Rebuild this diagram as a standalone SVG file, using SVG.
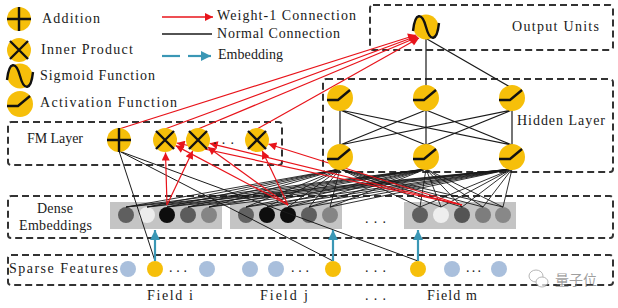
<svg xmlns="http://www.w3.org/2000/svg" xmlns:xlink="http://www.w3.org/1999/xlink" width="618" height="308" viewBox="0 0 618 308">
<style>
  .txt{font-family:"Liberation Serif","DejaVu Serif",serif;font-size:14px;fill:#1a1a1a}
  .box{fill:none;stroke:#333;stroke-width:2;stroke-dasharray:7 4}
  .y{fill:#f6bf0a}
  .gl{fill:none;stroke:#111;stroke-width:2.4}
  .blk{fill:none;stroke:#1a1a1a;stroke-width:0.9}
  .red{fill:none;stroke:#e8141b;stroke-width:1.2}
  .teal{fill:none;stroke:#3a97b5;stroke-width:2.2}
  .sp{fill:#a9bfdc}
  .emb{fill:#c4c4c4}
</style>
<defs>
  <marker id="ar" viewBox="0 0 10 10" refX="10" refY="5" markerWidth="10" markerHeight="8" markerUnits="userSpaceOnUse" orient="auto"><path d="M0,0 L10,5 L0,10 z" fill="#e8141b"/></marker>
  <marker id="at" viewBox="0 0 10 10" refX="10" refY="5" markerWidth="10" markerHeight="10" markerUnits="userSpaceOnUse" orient="auto"><path d="M0,0 L10,5 L0,10 z" fill="#3a97b5"/></marker>
  <g id="s-add"><circle r="12" class="y"/><path class="gl" d="M-12,0 H12 M0,-12 V12"/></g>
  <g id="s-ip"><circle r="12" class="y"/><path class="gl" d="M-9,-9 L9,9 M9,-9 L-9,9"/></g>
  <g id="s-sig"><circle r="12.5" class="y"/><path class="gl" d="M-13,4 C-11,-15 -4,-15 0,0 C4,15 11,15 13,-4"/></g>
  <g id="s-act"><circle r="13" class="y"/><path class="gl" d="M-13,2 H-2 L10,-8"/></g>
</defs>
<rect width="618" height="308" fill="#fff"/>

<!-- legend -->
<g id="legend">
  <use xlink:href="#s-add" x="19" y="19"/>
  <text class="txt" x="42" y="23" textLength="58" lengthAdjust="spacing">Addition</text>
  <use xlink:href="#s-ip" x="19" y="50"/>
  <text class="txt" x="41" y="54" textLength="92" lengthAdjust="spacing">Inner Product</text>
  <use xlink:href="#s-sig" x="20" y="76"/>
  <text class="txt" x="40" y="80" textLength="115" lengthAdjust="spacing">Sigmoid Function</text>
  <use xlink:href="#s-act" x="20" y="104"/>
  <text class="txt" x="40" y="107" textLength="137" lengthAdjust="spacing">Activation Function</text>
  <line class="red" x1="162" y1="17" x2="213" y2="17" marker-end="url(#ar)" style="stroke-width:1.5"/>
  <text class="txt" x="217" y="20" textLength="139" lengthAdjust="spacing">Weight-1 Connection</text>
  <line x1="162" y1="34" x2="212" y2="34" stroke="#1a1a1a" stroke-width="1.5"/>
  <text class="txt" x="217" y="38" textLength="123" lengthAdjust="spacing">Normal Connection</text>
  <path class="teal" d="M162,56 H180"/>
  <line class="teal" x1="188" y1="56" x2="211" y2="56" marker-end="url(#at)"/>
  <text class="txt" x="218" y="59" textLength="65" lengthAdjust="spacing">Embedding</text>
</g>

<!-- layer boxes -->
<g id="boxes">
  <rect class="box" x="370" y="5" width="243" height="45" rx="3"/>
  <text class="txt" x="512" y="31" textLength="87" lengthAdjust="spacing">Output Units</text>
  <rect class="box" x="323" y="79" width="290" height="93" rx="3"/>
  <text class="txt" x="517" y="125" textLength="88" lengthAdjust="spacing">Hidden Layer</text>
  <rect class="box" x="8" y="122" width="274" height="43" rx="3"/>
  <text class="txt" x="27" y="143" textLength="56" lengthAdjust="spacing">FM Layer</text>
  <rect class="box" x="8" y="196" width="605" height="42" rx="3"/>
  <text class="txt" x="37" y="213" textLength="36" lengthAdjust="spacing">Dense</text>
  <text class="txt" x="19" y="230" textLength="73" lengthAdjust="spacing">Embeddings</text>
  <rect class="box" x="8" y="255" width="605" height="30" rx="3"/>
  <text class="txt" x="9" y="273" textLength="109" lengthAdjust="spacing">Sparse Features</text>
</g>

<!-- dense embeddings -->
<g id="dense-field-i">
  <rect class="emb" x="110" y="202" width="112" height="27"/>
  <circle cx="126" cy="215" r="8" fill="#5f5f5f"/>
  <circle cx="147" cy="215" r="8" fill="#ececec"/>
  <circle cx="167" cy="215" r="8" fill="#0d0d0d"/>
  <circle cx="188" cy="215" r="8" fill="#5c5c5c"/>
  <circle cx="209" cy="215" r="8" fill="#858585"/>
</g>
<g id="dense-field-j">
  <rect class="emb" x="230" y="202" width="112" height="27"/>
  <circle cx="246" cy="215" r="8" fill="#626262"/>
  <circle cx="267" cy="215" r="8" fill="#0e0e0e"/>
  <circle cx="288" cy="215" r="8" fill="#0e0e0e"/>
  <circle cx="309" cy="215" r="8" fill="#5f5f5f"/>
  <circle cx="330" cy="215" r="8" fill="#858585"/>
</g>
<text class="txt" x="365" y="223" textLength="21" lengthAdjust="spacing">...</text>
<g id="dense-field-m">
  <rect class="emb" x="404" y="202" width="112" height="27"/>
  <circle cx="420" cy="215" r="8" fill="#5f5f5f"/>
  <circle cx="441" cy="215" r="8" fill="#eeeeee"/>
  <circle cx="462" cy="215" r="8" fill="#545454"/>
  <circle cx="483" cy="215" r="8" fill="#7d7d7d"/>
  <circle cx="503" cy="215" r="8" fill="#888888"/>
</g>

<!-- connectors -->
<g id="connectors">
  <g id="dense-to-hidden" class="blk">
    <path d="M126,207L340,169M126,207L426,169M126,207L512,169M147,207L340,169M147,207L426,169M147,207L512,169M167,207L340,169M167,207L426,169M167,207L512,169M188,207L340,169M188,207L426,169M188,207L512,169M209,207L340,169M209,207L426,169M209,207L512,169"/>
    <path d="M246,207L340,169M246,207L426,169M246,207L512,169M267,207L340,169M267,207L426,169M267,207L512,169M288,207L340,169M288,207L426,169M288,207L512,169M309,207L340,169M309,207L426,169M309,207L512,169M330,207L340,169M330,207L426,169M330,207L512,169"/>
    <path d="M420,207L340,169M420,207L426,169M420,207L512,169M441,207L340,169M441,207L426,169M441,207L512,169M462,207L340,169M462,207L426,169M462,207L512,169M483,207L340,169M483,207L426,169M483,207L512,169M503,207L340,169M503,207L426,169M503,207L512,169"/>
  </g>
  <g id="hidden-links" class="blk" style="stroke-width:1.2">
    <path d="M340,110L340,145M340,110L426,145M340,110L512,145M426,110L340,145M426,110L426,145M426,110L512,145M512,110L340,145M512,110L426,145M512,110L512,145"/>
    <path d="M426,39L426,86M427,39L510,87"/>
  </g>
  <g id="sparse-to-addition" class="blk" style="stroke-width:1">
    <path d="M119,151L155,261M119,151L333,261M119,151L418,261"/>
  </g>
  <g id="weight1-embed" class="red">
    <line x1="167" y1="205" x2="165.5" y2="152.5" marker-end="url(#ar)"/>
    <line x1="167" y1="205" x2="192.8" y2="150.8" marker-end="url(#ar)"/>
    <line x1="288" y1="205" x2="175.6" y2="145.6" marker-end="url(#ar)"/>
    <line x1="288" y1="205" x2="207.7" y2="147" marker-end="url(#ar)"/>
    <line x1="288" y1="205" x2="262.2" y2="150.8" marker-end="url(#ar)"/>
    <line x1="462" y1="205" x2="176.7" y2="143" marker-end="url(#ar)"/>
    <line x1="462" y1="205" x2="209.7" y2="143.3" marker-end="url(#ar)"/>
    <line x1="462" y1="205" x2="268.4" y2="144" marker-end="url(#ar)"/>
  </g>
  <g id="weight1-output" class="red">
    <line x1="119" y1="129" x2="416" y2="35" marker-end="url(#ar)"/>
    <line x1="165" y1="129" x2="417" y2="36" marker-end="url(#ar)"/>
    <line x1="198" y1="129" x2="418" y2="37" marker-end="url(#ar)"/>
    <line x1="257" y1="129" x2="419" y2="38" marker-end="url(#ar)"/>
  </g>
  <g id="embedding-arrows" class="teal">
    <line x1="155" y1="261" x2="155" y2="230" marker-end="url(#at)"/>
    <line x1="333" y1="261" x2="333" y2="230" marker-end="url(#at)"/>
    <line x1="418" y1="261" x2="418" y2="230" marker-end="url(#at)"/>
  </g>
</g>

<!-- nodes -->
<g id="output-unit"><use xlink:href="#s-sig" x="426" y="27"/></g>
<g id="hidden-1-1"><use xlink:href="#s-act" x="340" y="98"/></g>
<g id="hidden-1-2"><use xlink:href="#s-act" x="426" y="98"/></g>
<g id="hidden-1-3"><use xlink:href="#s-act" x="512" y="98"/></g>
<g id="hidden-2-1"><use xlink:href="#s-act" x="340" y="157"/></g>
<g id="hidden-2-2"><use xlink:href="#s-act" x="426" y="157"/></g>
<g id="hidden-2-3"><use xlink:href="#s-act" x="512" y="157"/></g>
<g id="fm-addition"><use xlink:href="#s-add" x="119" y="140"/></g>
<g id="fm-ip-1"><use xlink:href="#s-ip" x="165" y="140"/></g>
<g id="fm-ip-2"><use xlink:href="#s-ip" x="198" y="140"/></g>
<text class="txt" x="213" y="144" textLength="21" lengthAdjust="spacing">...</text>
<g id="fm-ip-3"><use xlink:href="#s-ip" x="257" y="140"/></g>

<g id="sparse-features">
  <circle class="sp" cx="128" cy="269" r="8"/>
  <circle class="y" cx="155" cy="269" r="8"/>
  <text class="txt" x="169" y="272" textLength="18" lengthAdjust="spacing">...</text>
  <circle class="sp" cx="207" cy="269" r="8"/>
  <circle class="sp" cx="250" cy="269" r="8"/>
  <circle class="sp" cx="276" cy="269" r="8"/>
  <text class="txt" x="291" y="272" textLength="18" lengthAdjust="spacing">...</text>
  <circle class="y" cx="333" cy="269" r="8"/>
  <text class="txt" x="365" y="272" textLength="21" lengthAdjust="spacing">...</text>
  <circle class="y" cx="418" cy="269" r="8"/>
  <circle class="sp" cx="452" cy="269" r="8"/>
  <text class="txt" x="466" y="272" textLength="15" lengthAdjust="spacing">...</text>
  <circle class="sp" cx="499" cy="269" r="8"/>
</g>

<g id="field-labels">
  <text class="txt" x="147" y="300" textLength="46" lengthAdjust="spacing">Field i</text>
  <text class="txt" x="260" y="300" textLength="48" lengthAdjust="spacing">Field j</text>
  <text class="txt" x="365" y="300" textLength="21" lengthAdjust="spacing">...</text>
  <text class="txt" x="427" y="300" textLength="50" lengthAdjust="spacing">Field m</text>
</g>

<g id="watermark" opacity="0.7">
  <ellipse cx="536" cy="276" rx="7" ry="6" fill="none" stroke="#999" stroke-width="1"/>
  <ellipse cx="542" cy="282" rx="6" ry="5" fill="#fff" stroke="#999" stroke-width="1"/>
  <text x="555" y="285" font-family="'Noto Sans CJK SC',sans-serif" font-size="14" fill="#777">量子位</text>
</g>
</svg>
